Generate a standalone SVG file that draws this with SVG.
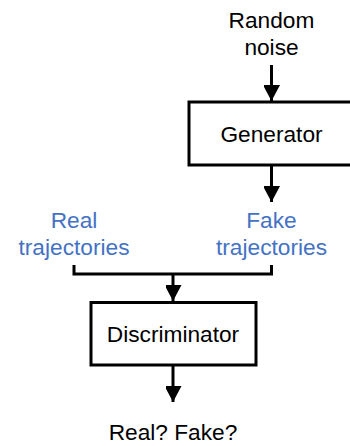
<svg xmlns="http://www.w3.org/2000/svg" width="350" height="446" viewBox="0 0 350 446">
<defs>
<marker id="ah" markerUnits="userSpaceOnUse" markerWidth="18" markerHeight="16" refX="16" refY="8.5" orient="auto">
<path d="M0,0 L16,8.5 L0,17 Z" fill="#000"/>
</marker>
<style>
.box{fill:#fff;stroke:#000;stroke-width:3}
.t{font-family:"Liberation Sans",Arial,sans-serif;font-size:22.7px;fill:#000;text-anchor:middle}
.b{fill:#4472C4}
.c{fill:none;stroke:#000;stroke-width:3}
</style>
</defs>
<rect width="350" height="446" fill="#fff"/>
<g id="noise"><text class="t" x="271.5" y="28">Random</text><text class="t" x="271.5" y="55">noise</text></g>
<g id="generator"><rect class="box" x="189" y="102" width="170" height="63"/><text class="t" x="271.5" y="141.5">Generator</text></g>
<g id="real"><text class="t b" x="74" y="228">Real</text><text class="t b" x="74" y="255">trajectories</text></g>
<g id="fake"><text class="t b" x="271.5" y="228">Fake</text><text class="t b" x="271.5" y="255">trajectories</text></g>
<g id="discriminator"><rect class="box" x="91" y="302.5" width="165" height="62.5"/><text class="t" x="173" y="341.5">Discriminator</text></g>
<g id="output"><text class="t" x="173" y="440">Real? Fake?</text></g>
<g id="connectors">
<path class="c" d="M271.5,65 V101" marker-end="url(#ah)"/>
<path class="c" d="M271.5,165 V202" marker-end="url(#ah)"/>
<path class="c" d="M74,265 V274 H271.5 V265"/>
<path class="c" d="M173,274 V301" marker-end="url(#ah)"/>
<path class="c" d="M173,365 V402" marker-end="url(#ah)"/>
</g>
</svg>
